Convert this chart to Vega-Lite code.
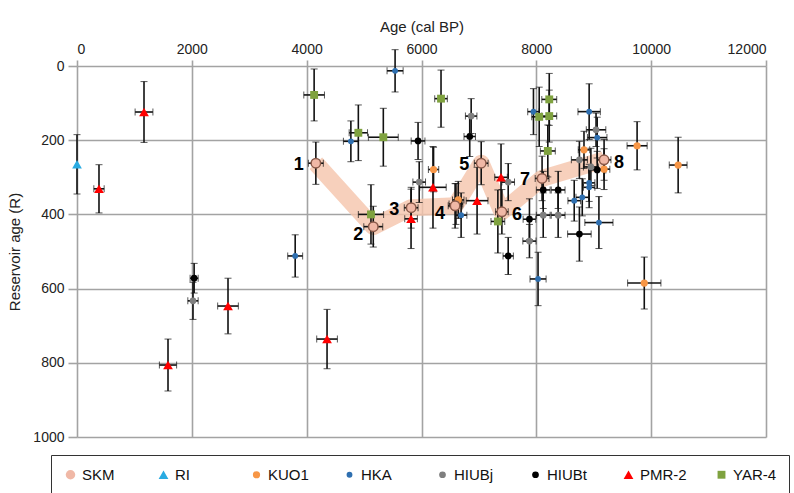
{
  "$schema": "https://vega.github.io/schema/vega-lite/v6.json",
  "autosize": "none",
  "width": 689,
  "height": 371,
  "padding": {"left": 77, "top": 66, "right": 28, "bottom": 56},
  "background": "white",
  "config": {
    "view": {"stroke": null},
    "font": "Liberation Sans",
    "axis": {"labelFont": "Liberation Sans", "titleFont": "Liberation Sans", "labelColor": "#222", "titleColor": "#222", "titleFontWeight": "normal", "gridColor": "#a3a3a3", "gridWidth": 1.6, "gridOpacity": 1, "domain": false, "tickColor": "#a3a3a3", "tickWidth": 1.6}
  },
  "data": {"values": [
    {"s": "SKM", "a": 4160, "ae": 130, "r": 262, "re": 57, "n": 1},
    {"s": "SKM", "a": 5160, "ae": 165, "r": 433, "re": 55, "n": 2},
    {"s": "SKM", "a": 5820, "ae": 120, "r": 382, "re": 55, "n": 3},
    {"s": "SKM", "a": 6585, "ae": 120, "r": 377, "re": 60, "n": 4},
    {"s": "SKM", "a": 7040, "ae": 120, "r": 262, "re": 58, "n": 5},
    {"s": "SKM", "a": 7400, "ae": 110, "r": 393, "re": 60, "n": 6},
    {"s": "SKM", "a": 8100, "ae": 120, "r": 303, "re": 60, "n": 7},
    {"s": "SKM", "a": 9180, "ae": 120, "r": 253, "re": 55, "n": 8},
    {"s": "RI", "a": 0, "ae": 0, "r": 265, "re": 80},
    {"s": "KUO1", "a": 9755, "ae": 175, "r": 215, "re": 65},
    {"s": "KUO1", "a": 10470, "ae": 155, "r": 267, "re": 75},
    {"s": "KUO1", "a": 9880, "ae": 290, "r": 585, "re": 70},
    {"s": "KUO1", "a": 6210, "ae": 90, "r": 279, "re": 60},
    {"s": "KUO1", "a": 6640, "ae": 100, "r": 361, "re": 50},
    {"s": "KUO1", "a": 8830, "ae": 100, "r": 226, "re": 50},
    {"s": "KUO1", "a": 9180, "ae": 100, "r": 278, "re": 55},
    {"s": "HKA", "a": 5540, "ae": 140, "r": 13, "re": 57},
    {"s": "HKA", "a": 4770, "ae": 130, "r": 203, "re": 55},
    {"s": "HKA", "a": 3800, "ae": 130, "r": 512, "re": 57},
    {"s": "HKA", "a": 8920, "ae": 195, "r": 123, "re": 75},
    {"s": "HKA", "a": 7950, "ae": 100, "r": 123, "re": 62},
    {"s": "HKA", "a": 9060, "ae": 170, "r": 193, "re": 55},
    {"s": "HKA", "a": 6690, "ae": 100, "r": 402, "re": 60},
    {"s": "HKA", "a": 8660, "ae": 110, "r": 363, "re": 55},
    {"s": "HKA", "a": 8800, "ae": 110, "r": 354, "re": 50},
    {"s": "HKA", "a": 8920, "ae": 100, "r": 315, "re": 50},
    {"s": "HKA", "a": 8920, "ae": 100, "r": 327, "re": 55},
    {"s": "HKA", "a": 9090, "ae": 245, "r": 422, "re": 70},
    {"s": "HKA", "a": 8030, "ae": 140, "r": 574, "re": 72},
    {"s": "HIUBj", "a": 2020, "ae": 90, "r": 633, "re": 50},
    {"s": "HIUBj", "a": 6865, "ae": 100, "r": 135, "re": 47},
    {"s": "HIUBj", "a": 5960, "ae": 110, "r": 313, "re": 55},
    {"s": "HIUBj", "a": 7510, "ae": 110, "r": 313, "re": 50},
    {"s": "HIUBj", "a": 8120, "ae": 120, "r": 402, "re": 60},
    {"s": "HIUBj", "a": 8380, "ae": 120, "r": 402, "re": 60},
    {"s": "HIUBj", "a": 9040, "ae": 170, "r": 172, "re": 45},
    {"s": "HIUBj", "a": 7880, "ae": 115, "r": 472, "re": 45},
    {"s": "HIUBj", "a": 6600, "ae": 120, "r": 372, "re": 55},
    {"s": "HIUBj", "a": 8950, "ae": 130, "r": 272, "re": 50},
    {"s": "HIUBj", "a": 8750, "ae": 140, "r": 253, "re": 50},
    {"s": "HIUBt", "a": 2040, "ae": 70, "r": 572, "re": 40},
    {"s": "HIUBt", "a": 5940, "ae": 120, "r": 202, "re": 50},
    {"s": "HIUBt", "a": 6840, "ae": 100, "r": 190, "re": 54},
    {"s": "HIUBt", "a": 8120, "ae": 120, "r": 334, "re": 50},
    {"s": "HIUBt", "a": 8380, "ae": 120, "r": 334, "re": 50},
    {"s": "HIUBt", "a": 7880, "ae": 110, "r": 413, "re": 55},
    {"s": "HIUBt", "a": 7510, "ae": 90, "r": 512, "re": 50},
    {"s": "HIUBt", "a": 8750, "ae": 205, "r": 453, "re": 73},
    {"s": "HIUBt", "a": 9060, "ae": 150, "r": 280, "re": 50},
    {"s": "PMR-2", "a": 383, "ae": 90, "r": 331, "re": 65},
    {"s": "PMR-2", "a": 1167, "ae": 155, "r": 124, "re": 82},
    {"s": "PMR-2", "a": 1585, "ae": 150, "r": 806, "re": 70},
    {"s": "PMR-2", "a": 2630, "ae": 180, "r": 647, "re": 75},
    {"s": "PMR-2", "a": 4355, "ae": 180, "r": 736, "re": 80},
    {"s": "PMR-2", "a": 5818, "ae": 110, "r": 412, "re": 80},
    {"s": "PMR-2", "a": 6200, "ae": 230, "r": 327, "re": 110},
    {"s": "PMR-2", "a": 6968, "ae": 190, "r": 363, "re": 90},
    {"s": "PMR-2", "a": 7385, "ae": 110, "r": 300, "re": 90},
    {"s": "YAR-4", "a": 4130, "ae": 180, "r": 78, "re": 70},
    {"s": "YAR-4", "a": 4900, "ae": 160, "r": 180, "re": 75},
    {"s": "YAR-4", "a": 5335, "ae": 260, "r": 192, "re": 78},
    {"s": "YAR-4", "a": 5120, "ae": 220, "r": 400, "re": 80},
    {"s": "YAR-4", "a": 6340, "ae": 110, "r": 88, "re": 77},
    {"s": "YAR-4", "a": 8225, "ae": 130, "r": 90, "re": 70},
    {"s": "YAR-4", "a": 8050, "ae": 130, "r": 137, "re": 80},
    {"s": "YAR-4", "a": 8225, "ae": 130, "r": 135, "re": 70},
    {"s": "YAR-4", "a": 8200, "ae": 130, "r": 229, "re": 70},
    {"s": "YAR-4", "a": 7330, "ae": 120, "r": 419, "re": 85}
  ]},
  "layer": [
    {
      "transform": [{"filter": "datum.s === 'SKM'"}],
      "mark": {"type": "line", "color": "#f5c4ab", "opacity": 0.8, "strokeWidth": 17, "strokeJoin": "round"},
      "encoding": {
        "x": {"field": "a", "type": "quantitative", "title": "Age (cal BP)", "scale": {"domain": [0, 12000], "nice": false}, "axis": {"orient": "top", "values": [0, 2000, 4000, 6000, 8000, 10000, 12000], "format": "d", "labelFontSize": 14, "labelPadding": 4, "tickSize": 6, "titleFontSize": 15, "titlePadding": 8}},
        "y": {"field": "r", "type": "quantitative", "title": "Reservoir age (R)", "scale": {"domain": [0, 1000], "reverse": true, "nice": false}, "axis": {"values": [0, 100, 200, 300, 400, 500, 600, 700, 800, 900, 1000], "labelExpr": "datum.value % 200 === 0 ? datum.label : ''", "format": "d", "labelFontSize": 14, "labelPadding": 4, "tickSize": 9, "tickColor": {"condition": {"test": "datum.value % 200 === 0", "value": "#a3a3a3"}, "value": "transparent"}, "titleFontSize": 15, "titlePadding": 10}},
        "order": {"field": "n", "type": "quantitative"}
      }
    },
    {
      "mark": {"type": "errorbar", "ticks": {"size": 7, "color": "#111", "strokeWidth": 1.6}, "rule": {"color": "#111", "strokeWidth": 1.6}},
      "encoding": {
        "x": {"field": "a", "type": "quantitative", "title": "Age (cal BP)"},
        "y": {"field": "r", "type": "quantitative", "title": "Reservoir age (R)"},
        "yError": {"field": "re"}
      }
    },
    {
      "transform": [{"filter": "datum.ae > 0"}],
      "mark": {"type": "errorbar", "ticks": {"size": 7, "color": "#111", "strokeWidth": 1.6}, "rule": {"color": "#111", "strokeWidth": 1.6}},
      "encoding": {
        "x": {"field": "a", "type": "quantitative", "title": "Age (cal BP)"},
        "y": {"field": "r", "type": "quantitative", "title": "Reservoir age (R)"},
        "xError": {"field": "ae"}
      }
    },
    {
      "mark": {"type": "point", "filled": true, "opacity": 1},
      "encoding": {
        "x": {"field": "a", "type": "quantitative", "title": "Age (cal BP)"},
        "y": {"field": "r", "type": "quantitative", "title": "Reservoir age (R)"},
        "color": {"field": "s", "type": "nominal", "scale": {"domain": ["SKM", "RI", "KUO1", "HKA", "HIUBj", "HIUBt", "PMR-2", "YAR-4"], "range": ["#f0b8a6", "#29abe2", "#f79646", "#2e6fb0", "#7f7f7f", "#000000", "#ff0000", "#7fa23f"]}, "legend": {"orient": "none", "legendX": -26, "legendY": 389, "direction": "horizontal", "columns": 8, "gridAlign": "all", "columnPadding": 27, "title": null, "labelFont": "Liberation Sans", "labelFontSize": 15, "labelColor": "#111", "labelOffset": 4, "symbolSize": 45, "strokeColor": "#333", "padding": 12, "symbolStrokeWidth": 0}},
        "shape": {"field": "s", "type": "nominal", "scale": {"domain": ["SKM", "RI", "KUO1", "HKA", "HIUBj", "HIUBt", "PMR-2", "YAR-4"], "range": ["circle", "triangle-up", "circle", "circle", "circle", "circle", "triangle-up", "square"]}},
        "size": {"field": "s", "type": "nominal", "scale": {"type": "ordinal", "domain": ["SKM", "RI", "KUO1", "HKA", "HIUBj", "HIUBt", "PMR-2", "YAR-4"], "range": [90, 95, 52, 34, 45, 45, 95, 62]}, "legend": null}
      }
    },
    {
      "transform": [{"filter": "datum.s === 'SKM'"}],
      "mark": {"type": "point", "shape": "circle", "filled": true, "fill": "#f0b8a6", "stroke": "#8a5a4a", "strokeWidth": 1.5, "size": 90, "opacity": 1},
      "encoding": {
        "x": {"field": "a", "type": "quantitative", "title": "Age (cal BP)"},
        "y": {"field": "r", "type": "quantitative", "title": "Reservoir age (R)"}
      }
    },
    {
      "transform": [{"filter": "datum.n === 1 || datum.n === 3 || datum.n === 5 || datum.n === 7"}],
      "mark": {"type": "text", "fontSize": 18, "fontWeight": "bold", "color": "#000", "dx": -17, "dy": 2, "align": "center", "baseline": "middle"},
      "encoding": {
        "x": {"field": "a", "type": "quantitative", "title": "Age (cal BP)"},
        "y": {"field": "r", "type": "quantitative", "title": "Reservoir age (R)"},
        "text": {"field": "n"}
      }
    },
    {
      "transform": [{"filter": "datum.n === 2 || datum.n === 4"}],
      "mark": {"type": "text", "fontSize": 18, "fontWeight": "bold", "color": "#000", "dx": -15, "dy": 8, "align": "center", "baseline": "middle"},
      "encoding": {
        "x": {"field": "a", "type": "quantitative", "title": "Age (cal BP)"},
        "y": {"field": "r", "type": "quantitative", "title": "Reservoir age (R)"},
        "text": {"field": "n"}
      }
    },
    {
      "transform": [{"filter": "datum.n === 6 || datum.n === 8"}],
      "mark": {"type": "text", "fontSize": 18, "fontWeight": "bold", "color": "#000", "dx": 15, "dy": 3, "align": "center", "baseline": "middle"},
      "encoding": {
        "x": {"field": "a", "type": "quantitative", "title": "Age (cal BP)"},
        "y": {"field": "r", "type": "quantitative", "title": "Reservoir age (R)"},
        "text": {"field": "n"}
      }
    }
  ]
}
